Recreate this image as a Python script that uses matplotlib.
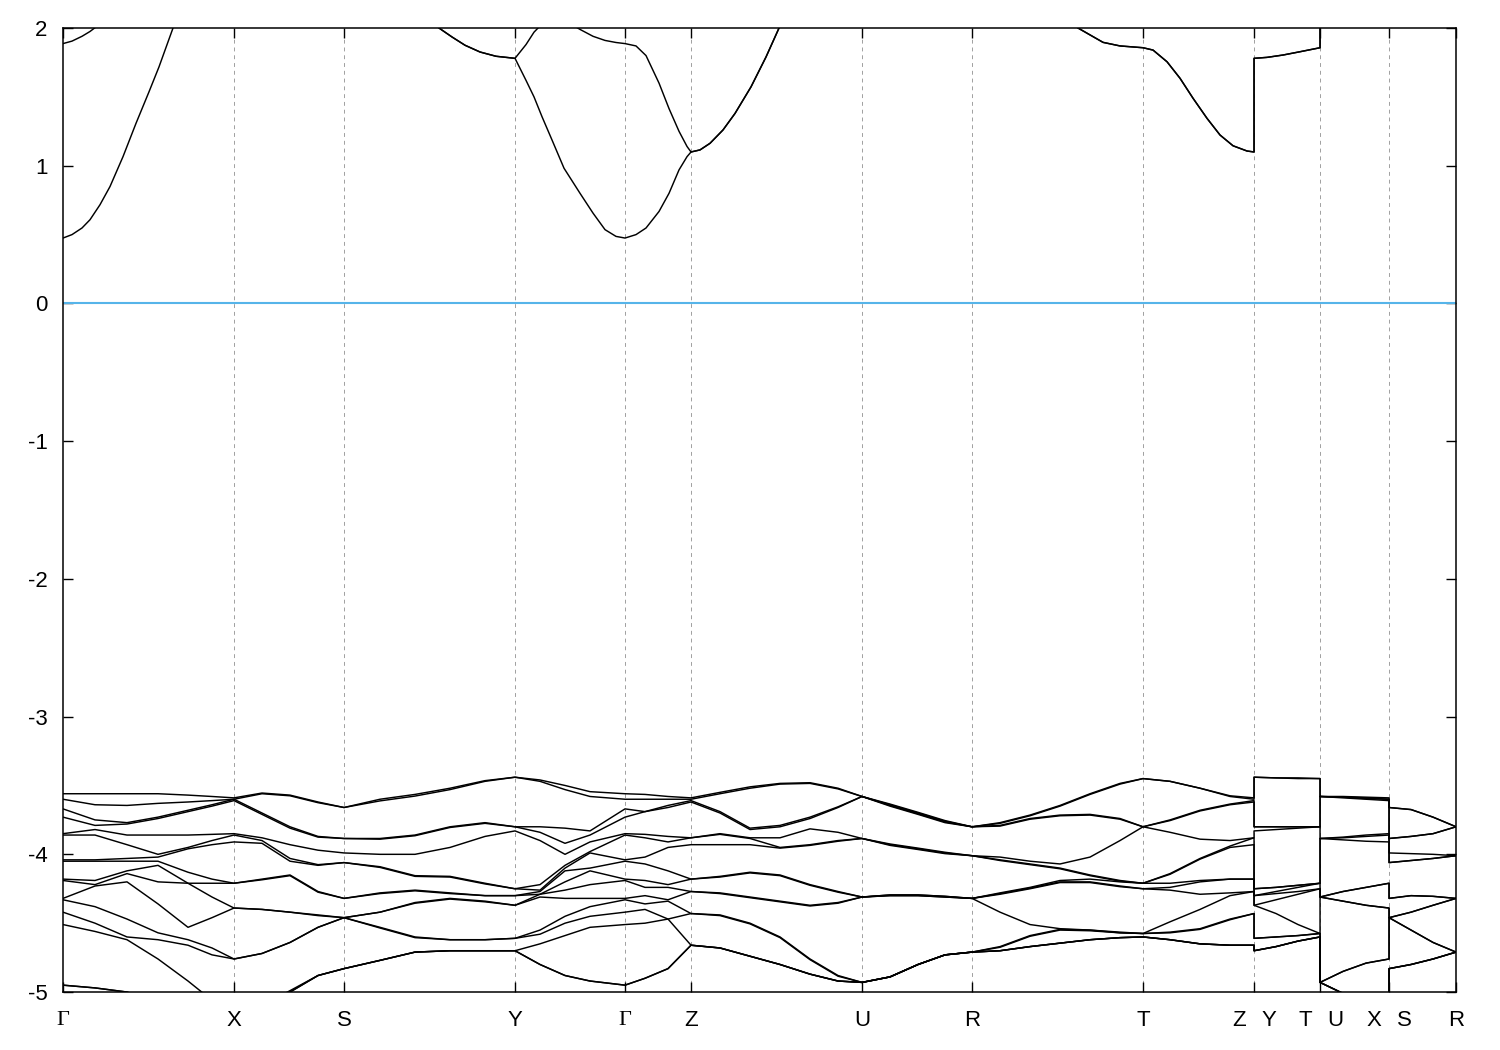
import numpy as np
import matplotlib
matplotlib.use('Agg')
from matplotlib import pyplot as plt
from matplotlib import transforms

plt.rcParams['font.family'] = ['Liberation Sans', 'DejaVu Sans']
plt.rcParams['axes.unicode_minus'] = False

# high-symmetry points along the k-path (path length, arbitrary units)
node_k = [0, 171, 281, 452, 562, 628, 799, 909, 1080, 1191, 1257, 1326, 1393]
node_labels = ['Γ', 'X', 'S', 'Y', 'Γ', 'Z', 'U', 'R', 'T', 'Z|Y', 'T|U', 'X|S', 'R']

# ---- valence bands (eV), one block per path segment: k columns + one row per band ----
# G-X
k_gx = [0, 32, 64, 95, 125, 149, 171]
e_gx = [
    [-3.56, -3.56, -3.56, -3.56, -3.57, -3.58, -3.59],
    [-3.60, -3.64, -3.645, -3.63, -3.62, -3.61, -3.60],
    [-3.67, -3.75, -3.77, -3.73, -3.68, -3.64, -3.60],
    [-3.85, -3.82, -3.78, -3.74, -3.69, -3.65, -3.61],
    [-3.86, -3.86, -3.86, -3.86, -3.86, -3.855, -3.85],
    [-3.73, -3.79, -3.93, -4.05, -4.21, -4.31, -4.39],
    [-4.04, -4.04, -4.05, -4.08, -4.13, -4.18, -4.21],
    [-4.05, -4.05, -4.03, -4.00, -3.96, -3.93, -3.91],
    [-4.32, -4.23, -4.12, -4.02, -3.95, -3.90, -3.86],
    [-4.18, -4.19, -4.20, -4.20, -4.21, -4.21, -4.21],
    [-4.19, -4.22, -4.14, -4.36, -4.53, -4.46, -4.39],
    [-4.33, -4.38, -4.47, -4.57, -4.66, -4.73, -4.76],
    [-4.51, -4.56, -4.60, -4.62, -4.62, -4.68, -4.76],
    [-4.42, -4.50, -4.62, -4.76, -4.92, -5.06, -5.20],
    [-4.95, -4.97, -5.00, -5.08, -5.15, -5.22, -5.30],
    [-4.95, -4.97, -5.00, -5.08, -5.15, -5.22, -5.30],
]
# X-S
k_xs = [171, 199, 227, 255, 281]
e_xs = [
    [-3.59, -3.555, -3.57, -3.62, -3.66],
    [-3.60, -3.56, -3.575, -3.625, -3.66],
    [-3.60, -3.70, -3.80, -3.87, -3.885],
    [-3.61, -3.71, -3.81, -3.875, -3.885],
    [-3.85, -3.88, -3.93, -3.97, -3.99],
    [-3.86, -3.90, -4.05, -4.075, -4.06],
    [-3.91, -3.92, -4.03, -4.08, -4.06],
    [-4.21, -4.18, -4.15, -4.27, -4.32],
    [-4.21, -4.185, -4.155, -4.275, -4.32],
    [-4.39, -4.40, -4.42, -4.44, -4.46],
    [-4.39, -4.40, -4.42, -4.445, -4.46],
    [-4.76, -4.72, -4.64, -4.53, -4.46],
    [-4.76, -4.72, -4.64, -4.53, -4.46],
    [-5.20, -5.10, -4.99, -4.88, -4.83],
    [-5.30, -5.15, -5.00, -4.88, -4.83],
    [-5.30, -5.15, -5.00, -4.88, -4.83],
]
# S-Y
k_sy = [281, 317, 352, 387, 422, 452]
e_sy = [
    [-3.66, -3.60, -3.565, -3.52, -3.465, -3.44],
    [-3.66, -3.612, -3.577, -3.53, -3.47, -3.44],
    [-3.885, -3.885, -3.86, -3.80, -3.77, -3.80],
    [-3.885, -3.89, -3.865, -3.805, -3.775, -3.80],
    [-3.99, -4.00, -4.00, -3.95, -3.87, -3.83],
    [-4.06, -4.09, -4.155, -4.16, -4.21, -4.25],
    [-4.06, -4.095, -4.16, -4.165, -4.215, -4.25],
    [-4.32, -4.28, -4.26, -4.28, -4.30, -4.30],
    [-4.32, -4.285, -4.265, -4.285, -4.30, -4.30],
    [-4.46, -4.42, -4.35, -4.32, -4.34, -4.37],
    [-4.46, -4.42, -4.355, -4.325, -4.345, -4.37],
    [-4.46, -4.53, -4.60, -4.62, -4.62, -4.61],
    [-4.46, -4.535, -4.605, -4.62, -4.62, -4.61],
    [-4.83, -4.77, -4.71, -4.70, -4.70, -4.70],
    [-4.83, -4.77, -4.71, -4.70, -4.70, -4.70],
    [-4.83, -4.77, -4.71, -4.70, -4.70, -4.70],
]
# Y-G
k_yg = [452, 477, 502, 527, 562]
e_yg = [
    [-3.44, -3.46, -3.50, -3.545, -3.56],
    [-3.44, -3.47, -3.53, -3.58, -3.60],
    [-3.80, -3.80, -3.81, -3.83, -3.85],
    [-3.80, -3.84, -3.92, -3.99, -4.04],
    [-4.37, -4.27, -4.10, -3.91, -3.73],
    [-4.37, -4.29, -4.08, -3.86, -3.67],
    [-4.25, -4.22, -4.12, -3.98, -3.86],
    [-4.25, -4.26, -4.20, -4.12, -4.05],
    [-3.83, -3.90, -4.00, -4.10, -4.18],
    [-4.30, -4.29, -4.26, -4.22, -4.19],
    [-4.30, -4.31, -4.32, -4.32, -4.32],
    [-4.61, -4.55, -4.45, -4.38, -4.33],
    [-4.61, -4.58, -4.50, -4.45, -4.42],
    [-4.70, -4.65, -4.59, -4.53, -4.51],
    [-4.70, -4.80, -4.88, -4.92, -4.95],
    [-4.70, -4.80, -4.88, -4.92, -4.95],
]
# G-Z
k_gz = [562, 582, 605, 628]
e_gz = [
    [-3.56, -3.565, -3.58, -3.59],
    [-3.60, -3.60, -3.60, -3.60],
    [-3.67, -3.69, -3.66, -3.62],
    [-3.73, -3.69, -3.645, -3.61],
    [-3.85, -3.855, -3.87, -3.88],
    [-3.86, -3.88, -3.91, -3.93],
    [-4.04, -4.02, -3.95, -3.88],
    [-4.05, -4.07, -4.12, -4.18],
    [-4.18, -4.19, -4.22, -4.27],
    [-4.19, -4.24, -4.33, -4.43],
    [-4.32, -4.30, -4.24, -4.18],
    [-4.33, -4.36, -4.47, -4.66],
    [-4.42, -4.40, -4.34, -4.27],
    [-4.51, -4.50, -4.47, -4.43],
    [-4.95, -4.90, -4.83, -4.66],
    [-4.95, -4.90, -4.83, -4.66],
]
# Z-U
k_zu = [628, 657, 687, 717, 747, 775, 799]
e_zu = [
    [-3.59, -3.55, -3.51, -3.485, -3.48, -3.52, -3.58],
    [-3.60, -3.56, -3.52, -3.49, -3.485, -3.525, -3.58],
    [-3.61, -3.69, -3.81, -3.79, -3.73, -3.655, -3.58],
    [-3.62, -3.70, -3.82, -3.80, -3.74, -3.66, -3.58],
    [-3.88, -3.85, -3.88, -3.95, -3.93, -3.90, -3.885],
    [-3.88, -3.855, -3.885, -3.955, -3.935, -3.905, -3.885],
    [-3.93, -3.93, -3.93, -3.88, -3.815, -3.84, -3.885],
    [-4.18, -4.16, -4.13, -4.15, -4.22, -4.27, -4.31],
    [-4.18, -4.165, -4.135, -4.155, -4.225, -4.275, -4.31],
    [-4.27, -4.28, -4.31, -4.34, -4.37, -4.35, -4.31],
    [-4.27, -4.285, -4.315, -4.345, -4.375, -4.355, -4.31],
    [-4.43, -4.44, -4.50, -4.60, -4.76, -4.88, -4.93],
    [-4.43, -4.445, -4.505, -4.605, -4.765, -4.885, -4.93],
    [-4.66, -4.68, -4.74, -4.80, -4.87, -4.92, -4.93],
    [-4.66, -4.68, -4.74, -4.80, -4.87, -4.92, -4.93],
    [-4.66, -4.68, -4.74, -4.80, -4.87, -4.92, -4.93],
]
# U-R
k_ur = [799, 827, 855, 882, 909]
e_ur = [
    [-3.58, -3.635, -3.695, -3.755, -3.80],
    [-3.58, -3.645, -3.705, -3.765, -3.80],
    [-3.58, -3.64, -3.70, -3.76, -3.80],
    [-3.58, -3.65, -3.71, -3.77, -3.80],
    [-3.885, -3.93, -3.96, -3.99, -4.01],
    [-3.885, -3.935, -3.965, -3.995, -4.01],
    [-3.885, -3.925, -3.955, -3.985, -4.01],
    [-4.31, -4.30, -4.30, -4.31, -4.32],
    [-4.31, -4.295, -4.295, -4.305, -4.32],
    [-4.31, -4.30, -4.30, -4.31, -4.32],
    [-4.31, -4.295, -4.295, -4.305, -4.32],
    [-4.93, -4.89, -4.80, -4.73, -4.71],
    [-4.93, -4.89, -4.80, -4.73, -4.71],
    [-4.93, -4.89, -4.80, -4.73, -4.71],
    [-4.93, -4.89, -4.80, -4.73, -4.71],
    [-4.93, -4.89, -4.80, -4.73, -4.71],
]
# R-T
k_rt = [909, 937, 967, 997, 1027, 1057, 1080]
e_rt = [
    [-3.80, -3.77, -3.715, -3.645, -3.56, -3.485, -3.45],
    [-3.80, -3.775, -3.72, -3.65, -3.565, -3.49, -3.45],
    [-3.80, -3.79, -3.74, -3.715, -3.71, -3.74, -3.80],
    [-3.80, -3.795, -3.745, -3.72, -3.715, -3.745, -3.80],
    [-4.01, -4.02, -4.05, -4.07, -4.02, -3.90, -3.80],
    [-4.01, -4.04, -4.07, -4.10, -4.15, -4.19, -4.21],
    [-4.01, -4.045, -4.075, -4.105, -4.155, -4.195, -4.21],
    [-4.32, -4.28, -4.24, -4.19, -4.18, -4.20, -4.21],
    [-4.32, -4.285, -4.245, -4.20, -4.20, -4.23, -4.25],
    [-4.32, -4.29, -4.25, -4.205, -4.205, -4.235, -4.25],
    [-4.32, -4.42, -4.51, -4.54, -4.55, -4.57, -4.575],
    [-4.71, -4.67, -4.59, -4.545, -4.55, -4.565, -4.575],
    [-4.71, -4.675, -4.595, -4.55, -4.555, -4.57, -4.575],
    [-4.71, -4.70, -4.67, -4.645, -4.62, -4.605, -4.60],
    [-4.71, -4.70, -4.67, -4.645, -4.62, -4.605, -4.60],
    [-4.71, -4.70, -4.67, -4.645, -4.62, -4.605, -4.60],
]
# T-Z
k_tz = [1080, 1107, 1137, 1167, 1191]
e_tz = [
    [-3.45, -3.47, -3.52, -3.575, -3.59],
    [-3.45, -3.47, -3.52, -3.58, -3.60],
    [-3.80, -3.75, -3.68, -3.635, -3.61],
    [-3.80, -3.755, -3.685, -3.64, -3.62],
    [-3.80, -3.84, -3.89, -3.90, -3.88],
    [-4.21, -4.14, -4.03, -3.94, -3.88],
    [-4.21, -4.145, -4.035, -3.95, -3.93],
    [-4.21, -4.21, -4.19, -4.18, -4.18],
    [-4.25, -4.24, -4.20, -4.18, -4.18],
    [-4.25, -4.26, -4.29, -4.28, -4.27],
    [-4.575, -4.49, -4.40, -4.30, -4.27],
    [-4.575, -4.565, -4.54, -4.47, -4.43],
    [-4.575, -4.57, -4.545, -4.475, -4.43],
    [-4.60, -4.62, -4.65, -4.66, -4.66],
    [-4.60, -4.62, -4.65, -4.66, -4.66],
    [-4.60, -4.62, -4.65, -4.66, -4.66],
]
# Y-T
k_yt = [1191, 1213, 1235, 1257]
e_yt = [
    [-3.44, -3.445, -3.445, -3.45],
    [-3.44, -3.445, -3.45, -3.45],
    [-3.80, -3.80, -3.80, -3.80],
    [-3.80, -3.80, -3.80, -3.80],
    [-3.83, -3.82, -3.81, -3.80],
    [-4.25, -4.24, -4.225, -4.21],
    [-4.25, -4.24, -4.225, -4.21],
    [-4.30, -4.27, -4.24, -4.21],
    [-4.30, -4.285, -4.27, -4.25],
    [-4.37, -4.33, -4.29, -4.25],
    [-4.37, -4.43, -4.51, -4.575],
    [-4.61, -4.60, -4.59, -4.575],
    [-4.61, -4.60, -4.59, -4.575],
    [-4.70, -4.67, -4.63, -4.60],
    [-4.70, -4.67, -4.63, -4.60],
    [-4.70, -4.67, -4.63, -4.60],
]
# U-X
k_ux = [1257, 1280, 1303, 1326]
e_ux = [
    [-3.58, -3.58, -3.585, -3.59],
    [-3.58, -3.585, -3.59, -3.60],
    [-3.58, -3.585, -3.595, -3.60],
    [-3.58, -3.59, -3.60, -3.61],
    [-3.885, -3.875, -3.86, -3.85],
    [-3.885, -3.88, -3.87, -3.86],
    [-3.885, -3.895, -3.905, -3.91],
    [-4.31, -4.27, -4.24, -4.21],
    [-4.31, -4.27, -4.24, -4.21],
    [-4.31, -4.34, -4.37, -4.39],
    [-4.31, -4.34, -4.37, -4.39],
    [-4.93, -4.85, -4.79, -4.76],
    [-4.93, -4.85, -4.79, -4.76],
    [-4.93, -5.01, -5.10, -5.20],
    [-4.93, -5.01, -5.15, -5.30],
    [-4.93, -5.01, -5.15, -5.30],
]
# S-R
k_sr = [1326, 1348, 1370, 1393]
e_sr = [
    [-3.66, -3.675, -3.73, -3.80],
    [-3.66, -3.675, -3.73, -3.80],
    [-3.885, -3.87, -3.85, -3.80],
    [-3.885, -3.87, -3.85, -3.80],
    [-3.99, -3.995, -4.00, -4.01],
    [-4.06, -4.045, -4.03, -4.01],
    [-4.06, -4.045, -4.03, -4.01],
    [-4.32, -4.30, -4.305, -4.32],
    [-4.32, -4.30, -4.305, -4.32],
    [-4.46, -4.42, -4.37, -4.32],
    [-4.46, -4.42, -4.37, -4.32],
    [-4.46, -4.55, -4.64, -4.71],
    [-4.46, -4.55, -4.64, -4.71],
    [-4.83, -4.80, -4.76, -4.71],
    [-4.83, -4.80, -4.76, -4.71],
    [-4.83, -4.80, -4.76, -4.71],
]

# ---- lowest two conduction bands (eV) ----
k_cb = [0, 9, 19, 27, 37, 47, 60, 73, 86, 96, 110, 137, 171, 227, 281,
        337, 357, 376, 389, 402, 417, 433, 452,
        463, 471, 479, 489, 501, 517, 530, 542, 553, 562,
        573, 583, 596, 606, 616, 624, 628,
        637, 647, 660, 672, 688, 703, 716, 799, 909,
        967, 1015, 1027, 1040, 1057, 1080,
        1090, 1104, 1117, 1130, 1144, 1157, 1170, 1184, 1191,
        1191, 1204, 1220, 1237, 1257,
        1257, 1326, 1393]
cb_lo = [0.475, 0.50, 0.548, 0.608, 0.717, 0.849, 1.066, 1.308, 1.537, 1.718, 2.0, 2.45, 2.8, 2.9, 2.7,
         2.35, 2.15, 2.0, 1.935, 1.875, 1.826, 1.795, 1.78,
         1.62, 1.50, 1.356, 1.187, 0.982, 0.80, 0.656, 0.536, 0.487, 0.475,
         0.50, 0.548, 0.668, 0.80, 0.97, 1.066, 1.10,
         1.115, 1.163, 1.26, 1.38, 1.573, 1.79, 2.0, 2.8, 2.7,
         2.3, 2.0, 1.95, 1.896, 1.87, 1.857,
         1.84, 1.755, 1.635, 1.49, 1.344, 1.223, 1.145, 1.107, 1.10,
         1.78, 1.787, 1.804, 1.828, 1.857,
         2.6, 2.6, 2.6]
cb_hi = [1.887, 1.905, 1.94, 1.975, 2.03, 2.09, 2.18, 2.28, 2.38, 2.46, 2.56, 2.75, 2.9, 3.0, 2.7,
         2.35, 2.15, 2.0, 1.935, 1.875, 1.826, 1.795, 1.78,
         1.88, 1.97, 2.03, 2.06, 2.06, 1.99, 1.94, 1.91, 1.895, 1.887,
         1.87, 1.80, 1.60, 1.415, 1.25, 1.14, 1.10,
         1.115, 1.163, 1.26, 1.38, 1.573, 1.79, 2.0, 2.8, 2.7,
         2.3, 2.0, 1.95, 1.896, 1.87, 1.857,
         1.84, 1.755, 1.635, 1.49, 1.344, 1.223, 1.145, 1.107, 1.10,
         1.78, 1.787, 1.804, 1.828, 1.857,
         2.6, 2.6, 2.6]

segments = [(k_gx, e_gx), (k_xs, e_xs), (k_sy, e_sy), (k_yg, e_yg), (k_gz, e_gz),
            (k_zu, e_zu), (k_ur, e_ur), (k_rt, e_rt), (k_tz, e_tz), (k_yt, e_yt),
            (k_ux, e_ux), (k_sr, e_sr)]

# bands are stored by energy order at every k point
k_all = []
blocks = []
for k, e in segments:
    k_all.extend(k)
    blocks.append(np.sort(np.array(e), axis=0))
bands = np.hstack(blocks)

fig = plt.figure(figsize=(15, 10.5), dpi=100)
ax = fig.add_axes([0.042, 0.0552, 0.9287, 0.9181])

# dashed lines at high-symmetry points
for kn in node_k[1:-1]:
    ax.axvline(kn, color='#a0a0a0', lw=0.7, ls=(0, (4, 4)), zorder=1)

# Fermi level
ax.axhline(0, color='#56b4e9', lw=1.5, zorder=2)

for row in bands:
    ax.plot(k_all, row, color='black', lw=1.05, zorder=3)
ax.plot(k_cb, cb_lo, color='black', lw=1.05, zorder=3)
ax.plot(k_cb, cb_hi, color='black', lw=1.05, zorder=3)

ax.set_xlim(node_k[0], node_k[-1])
ax.set_ylim(-5, 2)
ax.set_yticks(range(-5, 3))
ax.set_xticks(node_k)
ax.set_xticklabels([''] * len(node_k))
ax.tick_params(direction='in', length=7, width=1.0, top=True, right=True,
               labelsize=16, pad=11)
for sp in ax.spines.values():
    sp.set_linewidth(1.1)

# k-point labels under the axis
trans = transforms.blended_transform_factory(ax.transData, ax.transAxes)
for kn, lab in zip(node_k, node_labels):
    parts = lab.split('|')
    if len(parts) == 1:
        xs = [kn]
    else:
        xs = [kn - 15, kn + 15]
    for xp, p in zip(xs, parts):
        fam = ['Liberation Serif', 'DejaVu Serif'] if p == 'Γ' else ['Liberation Sans', 'DejaVu Sans']
        ax.text(xp, -0.0295, p, transform=trans, ha='center', va='center',
                fontsize=16, family=fam)

fig.savefig('out.png', dpi=100)
